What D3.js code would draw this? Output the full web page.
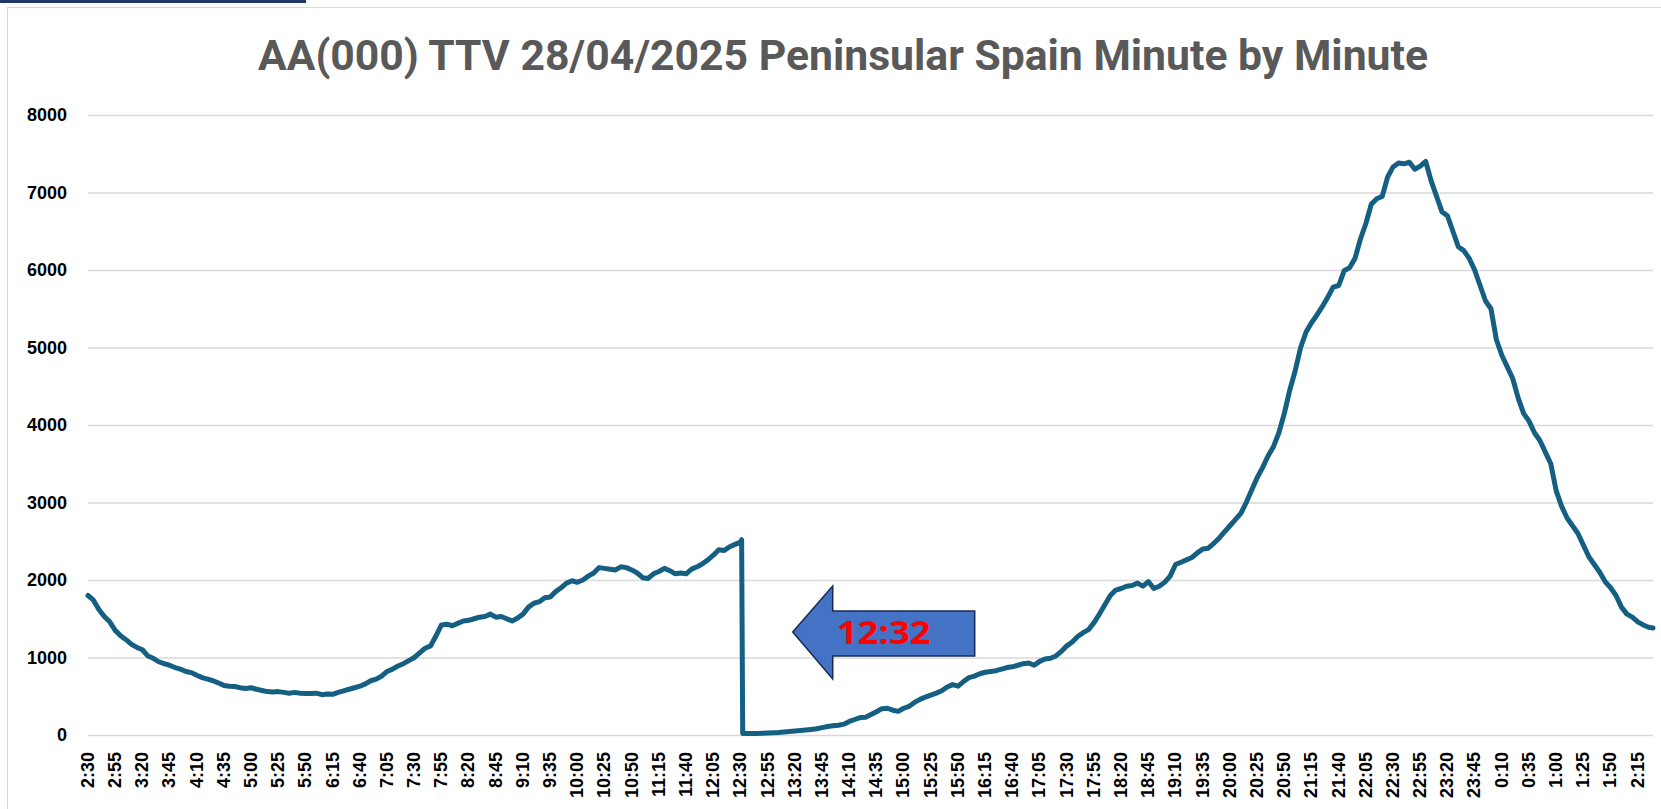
<!DOCTYPE html>
<meta charset="utf-8">
<style>

body {
  margin: 0;
  background: #fff;
}

.grid line {
  stroke: #d9d9d9;
  stroke-width: 1.3px;
}

.axis text {
  font: bold 18px "Liberation Sans", Arial, sans-serif;
  fill: #000;
}

</style>
<body>
<script src="https://cdn.jsdelivr.net/npm/d3@7"></script>
<script>

// x axis labels, one every 25 minutes starting 2:30
var tickLabels = ["2:30","2:55","3:20","3:45","4:10","4:35","5:00","5:25","5:50","6:15",
  "6:40","7:05","7:30","7:55","8:20","8:45","9:10","9:35","10:00","10:25",
  "10:50","11:15","11:40","12:05","12:30","12:55","13:20","13:45","14:10","14:35",
  "15:00","15:25","15:50","16:15","16:40","17:05","17:30","17:55","18:20","18:45",
  "19:10","19:35","20:00","20:25","20:50","21:15","21:40","22:05","22:30","22:55",
  "23:20","23:45","0:10","0:35","1:00","1:25","1:50","2:15"];

var yTicks = [0, 1000, 2000, 3000, 4000, 5000, 6000, 7000, 8000];

// TTV (000) every 5 minutes, first value at 2:30
var ttv = [
  1800, 1740, 1620, 1530, 1460, 1350, 1280, 1230, 1170, 1130, 1100, 1020,   // 2:30
   990,  945,  920,  900,  870,  850,  820,  805,  770,  740,  720,  700,   // 3:30
   670,  640,  630,  625,  610,  600,  610,  590,  575,  560,  555,  560,   // 4:30
   550,  540,  550,  540,  535,  535,  540,  520,  530,  525,  550,  570,   // 5:30
   590,  610,  630,  660,  700,  720,  760,  820,  850,  890,  920,  960,   // 6:30
  1000, 1060, 1120, 1150, 1280, 1420, 1430, 1410, 1440, 1470, 1480, 1500,   // 7:30
  1520, 1530, 1560, 1520, 1530, 1500, 1470, 1510, 1560, 1650, 1700, 1720,   // 8:30
  1770, 1780, 1850, 1900, 1960, 1990, 1970, 2000, 2050, 2090, 2160, 2150,   // 9:30
  2140, 2130, 2170, 2160, 2130, 2090, 2030, 2020, 2080, 2110, 2150, 2120,   // 10:30
  2080, 2090, 2080, 2140, 2170, 2210, 2260, 2320, 2390, 2380, 2430, 2460,   // 11:30
  2490,   18,   18,   20,   22,   25,   28,   32,   38,   45,   52,   58,   // 12:30
    65,   72,   80,   95,  110,  120,  125,  140,  175,  200,  225,  230,   // 13:30
   265,  300,  340,  345,  320,  305,  345,  370,  420,  460,  490,  515,   // 14:30
   540,  570,  620,  650,  630,  690,  740,  760,  790,  810,  820,  830,   // 15:30
   850,  870,  880,  900,  920,  930,  900,  950,  980,  990, 1020, 1080,   // 16:30
  1150, 1200, 1270, 1320, 1360, 1450, 1560, 1680, 1800, 1870, 1890, 1920,   // 17:30
  1930, 1960, 1920, 1980, 1890, 1920, 1970, 2050, 2200, 2230, 2260, 2290,   // 18:30
  2350, 2400, 2410, 2470, 2540, 2620, 2700, 2780, 2860, 3000, 3160, 3320,   // 19:30
  3450, 3600, 3720, 3900, 4150, 4450, 4700, 5000, 5200, 5320, 5420, 5530,   // 20:30
  5650, 5780, 5800, 5990, 6030, 6150, 6400, 6600, 6850, 6920, 6950, 7200,   // 21:30
  7330, 7380, 7370, 7390, 7300, 7340, 7400, 7150, 6950, 6750, 6700, 6500,   // 22:30
  6300, 6250, 6150, 6000, 5800, 5600, 5500, 5100, 4900, 4750, 4600, 4350,   // 23:30
  4150, 4050, 3900, 3800, 3650, 3500, 3150, 2950, 2800, 2700, 2600, 2450,   // 0:30
  2300, 2200, 2100, 1980, 1900, 1800, 1650, 1560, 1520, 1460, 1420, 1390    // 1:30
];

// the blackout drop at 12:31 -> 12:32, and the last reading at 2:29
var extraMinutes = [601, 602, 1439];
var extraValues  = [2520, 20, 1380];

var width = 1661,
    height = 809;

var margin = {left: 88, right: 8, top: 115, bottom: 74};

var svg = d3.select("body").append("svg")
    .attr("width", width)
    .attr("height", height);

// chart area border and the selection bar at the top
svg.append("rect")
    .attr("x", 7.5).attr("y", 7.5)
    .attr("width", width).attr("height", height)
    .attr("fill", "#fff")
    .attr("stroke", "#d9d9d9");

svg.append("rect")
    .attr("x", 0).attr("y", 0)
    .attr("width", 306).attr("height", 3)
    .attr("fill", "#1f3864");

var x = d3.scaleLinear()
    .domain([0, 1439])
    .range([margin.left, width - margin.right]);

var y = d3.scaleLinear()
    .domain([0, 8000])
    .range([height - margin.bottom, margin.top]);

// gridlines + y labels
var yAxis = svg.append("g")
    .attr("class", "axis grid")
    .attr("transform", "translate(" + margin.left + ",0)")
    .call(d3.axisLeft(y)
      .tickValues(yTicks)
      .tickSize(-(width - margin.left - margin.right))
      .tickPadding(21)
      .tickFormat(d3.format("d")));
yAxis.select(".domain").remove();

// x labels, rotated
var xAxis = svg.append("g")
    .attr("class", "axis")
    .attr("transform", "translate(0," + y(0) + ")")
    .call(d3.axisBottom(x)
      .tickValues(tickLabels.map(function(d, i) { return i * 25; }))
      .tickSize(0)
      .tickFormat(function(d, i) { return tickLabels[i]; }));
xAxis.select(".domain").remove();
xAxis.selectAll("text")
    .attr("transform", "rotate(-90)")
    .attr("x", -17)
    .attr("y", -1)
    .attr("dy", "0.35em")
    .attr("text-anchor", "end");

// build the series
var points = ttv.map(function(v, i) { return [i * 5, v]; });
extraMinutes.forEach(function(m, i) { points.push([m, extraValues[i]]); });
points.sort(function(a, b) { return a[0] - b[0]; });

var line = d3.line()
    .x(function(d) { return x(d[0]); })
    .y(function(d) { return y(d[1]); });

svg.append("path")
    .datum(points)
    .attr("d", line)
    .attr("fill", "none")
    .attr("stroke", "#156082")
    .attr("stroke-width", 5)
    .attr("stroke-linejoin", "round")
    .attr("stroke-linecap", "round");

// title
svg.append("text")
    .attr("x", 843)
    .attr("y", 70)
    .attr("text-anchor", "middle")
    .attr("textLength", 1170)
    .attr("lengthAdjust", "spacingAndGlyphs")
    .style("font", "bold 43px Roboto, sans-serif")
    .style("fill", "#595959")
    .text("AA(000) TTV 28/04/2025 Peninsular Spain Minute by Minute");

// arrow pointing back at the drop
var tipX = x(602) + 50,
    tipY = y(1330);
var arrow = [
  [tipX, tipY],
  [tipX + 40, tipY - 46],
  [tipX + 40, tipY - 21],
  [tipX + 182, tipY - 21],
  [tipX + 182, tipY + 24],
  [tipX + 40, tipY + 24],
  [tipX + 40, tipY + 47]
];

svg.append("polygon")
    .attr("points", arrow.map(function(p) { return p.join(","); }).join(" "))
    .attr("fill", "#4472c4")
    .attr("stroke", "#172c51")
    .attr("stroke-width", 1.5);

svg.append("text")
    .attr("x", tipX + 44)
    .attr("y", tipY + 12)
    .attr("textLength", 94)
    .attr("lengthAdjust", "spacingAndGlyphs")
    .style("font", "bold 33px 'Open Sans', sans-serif")
    .style("fill", "#ff0000")
    .text("12:32");

</script>
</body>
